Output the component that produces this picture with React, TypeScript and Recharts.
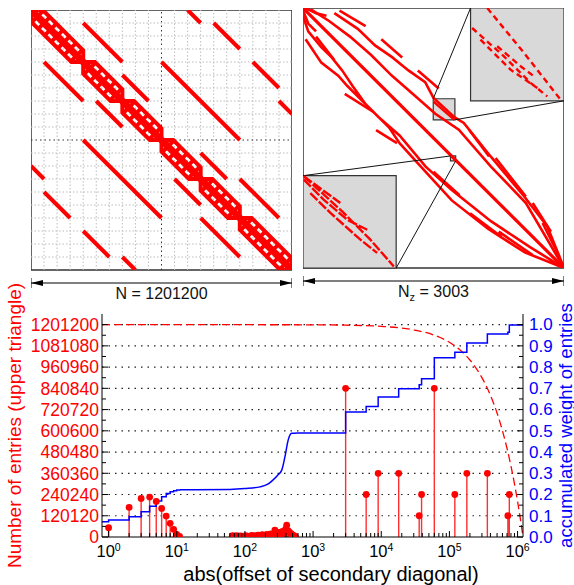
import React from "react";
import {
  ComposedChart,
  LineChart,
  Line,
  Scatter,
  XAxis,
  YAxis,
  ReferenceLine,
  ReferenceArea,
} from "recharts";

const N = 1201200;
const RED = "#ff0000";
const BLUE = "#0000ff";

// ---- top left: sparsity pattern, in grid cells (20 x 20, row 0 at top) ----
const gridCells = [1, 2, 3, 4, 5, 6, 7, 8, 9, 10, 11, 12, 13, 14, 15, 16, 17, 18, 19];
const diagBlocks = [[0, 4], [4, 7], [7, 10], [10, 13], [13, 16], [16, 20]];
// [col1, row1, col2, row2]
const offDiagonals = [
  [4, 1, 7, 4], [7, 5, 9, 7], [12, 0, 13, 1], [14, 1, 16, 3], [17, 4, 19, 6],
  [19, 7, 20, 8], [10, 4, 16, 10], [13, 11, 15, 13], [16, 13, 19, 16],
  [1, 4, 4, 7], [5, 7, 7, 9], [0, 12, 1, 13], [1, 14, 3, 16], [4, 17, 6, 19],
  [7, 19, 8, 20], [4, 10, 10, 16], [11, 13, 13, 15], [13, 16, 16, 19],
];

// ---- top right: reordered pattern, in percent of Nz (row 0 at top) ----
const nzMain = [[0, 0], [100, 100]];
const nzStrands = [
  [[12, 2], [21, 8], [27.6, 14.4], [34, 18.8], [40.4, 24], [46.8, 28.5], [50, 34.6], [58, 42], [61.6, 44.2], [71.9, 57.1], [84.7, 72.4], [93.6, 84], [100, 100]],
  [[3, 0.5], [10, 5], [18, 11], [26, 18], [34, 26], [42, 33], [50.7, 40.7], [59.7, 46.8], [72, 61], [85.4, 75], [100, 100]],
  [[0, 3], [2, 9], [7, 15], [11, 19], [15, 24], [19, 30], [24, 37], [29, 42], [37, 49], [47, 61], [57, 70], [72, 82], [87, 92], [100, 100]],
  [[1, 12], [7, 21], [13.5, 26], [17, 30], [23, 36], [28, 41], [33, 46], [37, 52], [47, 63], [57, 74], [71, 85], [85, 94], [100, 100]],
];
const nzBits = [
  [[1, 0], [5, 2], [9, 3]], [[0, 1], [2, 6], [5, 9]], [[14, 1], [24, 7]], [[30, 12], [38, 19]],
  [[44, 24], [52, 31]], [[63.6, 46.8], [71.3, 57.1]], [[73.8, 57.7], [85.4, 72.5]], [[88, 75], [95, 86]],
  [[91.8, 82.7], [98.2, 95.5]], [[5, 11], [12, 20]], [[16, 33], [27, 40]], [[28, 47], [36, 52]],
  [[50, 63], [60, 72]], [[64, 79], [76, 88]], [[75, 86], [88, 95]],
];
const insetUp = { u: [64.2, 100], v: [0, 35.7] };
const boxUp = { u: [49.9, 58.2], v: [34.9, 43] };
const insetLow = { u: [0, 35.7], v: [64.5, 100] };
const boxLow = { u: [56.5, 58.5], v: [56.9, 58.8] };
const connectors = [
  [[49.9, 34.9], [64.2, 0]], [[58.2, 43], [100, 35.7]],
  [[56.5, 56.9], [0, 64.5]], [[58.5, 58.8], [35.7, 100]],
];
const insetUpDashes = [
  [[70.6, 0], [84.7, 17.3], [98.7, 35.3]],
  [[64.8, 7.7], [77, 18.6], [87.2, 28.8], [93.6, 34]],
  [[68, 12.2], [79.5, 23.7], [89.8, 30.8]],
  [[74.4, 14.7], [83.4, 22.4], [88.5, 26.3]],
];
const insetLowDashes = [
  [[0.3, 64.7], [14.3, 75]],
  [[0.3, 66], [7.9, 73.7], [16.9, 81.4], [24.6, 85.3]],
  [[0.3, 64.7], [15.6, 78.8], [25.8, 89.1], [34.8, 99.4]],
  [[2.8, 71.2], [10.5, 78.8], [22, 89.1], [28.4, 94.2]],
];
const boxThrough = [[[57.5, 57.5], [58.5, 58.5]], [[50, 36], [58, 43]]];

// ---- bottom: entries per secondary diagonal ----
const stemOffsets = [
  1, 2, 3, 4, 5, 6, 7, 8, 9, 10, 11,
  66, 70, 75, 80, 85, 90, 96, 102, 110, 118, 126, 135, 145, 156, 168, 180, 195, 210, 225,
  240, 258, 275, 295, 315, 335, 355, 375, 395, 410, 430, 450, 475, 500, 525, 550,
  3003, 6006, 9009, 18018, 36036, 39039, 60060, 120120, 180180, 360360, 720720, 756756,
];
const stemCounts = [
  52400, 167500, 218000, 225600, 201300, 161800, 118400, 77300, 43400, 15000, 3000,
  8000, 4000, 7000, 3000, 6000, 5000, 3000, 8000, 5000, 4000, 9000, 6000, 8000, 11000, 7000, 13000, 9000, 15000, 11000,
  18000, 14000, 39000, 20000, 26000, 17000, 31000, 24000, 45000, 67000, 36000, 28000, 19000, 12000, 8000, 4000,
  840840, 240240, 360360, 360360, 120120, 240240, 840840, 240240, 360360, 360360, 120120, 240240,
];
// accumulated weight: steps up to offset 11, smooth rise to 600, steps again
const weightOffsets = [
  0.8, 1, 2, 3, 4, 5, 6, 7, 8, 9, 10, 11, 60, 100, 166, 220, 257, 300, 347, 386, 430, 484, 600,
  3003, 6006, 9009, 18018, 36036, 39039, 60060, 120120, 180180, 360360, 720720, 756756, 1201200,
];
const weights = [
  0.072, 0.08, 0.095, 0.119, 0.145, 0.169, 0.189, 0.205, 0.213, 0.218, 0.221, 0.222, 0.224, 0.228, 0.236, 0.25, 0.268, 0.29, 0.315, 0.377, 0.455, 0.488, 0.49,
  0.588, 0.615, 0.659, 0.698, 0.717, 0.745, 0.844, 0.87, 0.914, 0.956, 0.964, 0.998, 1.0,
];
const smoothFrom = 11;
const smoothTo = 600;
const lengthOffsets = [0.8, 1000, 3000, 10000, 30000, 60000, 100000, 150000, 200000, 300000, 400000, 500000, 600000, 700000, 800000, 900000, 1000000, 1100000, 1150000, 1201200];
const diagLengths = [1201200, 1200200, 1198200, 1191200, 1171200, 1141200, 1101200, 1051200, 1001200, 901200, 801200, 701200, 601200, 501200, 401200, 301200, 201200, 101200, 51200, 0];

const xMajor = [1, 10, 100, 1000, 10000, 100000, 1000000];
const xMinor = xMajor.slice(0, 6).flatMap((d) => [2, 3, 4, 5, 6, 7, 8, 9].map((m) => m * d));
const leftTicks = [0, 120120, 240240, 360360, 480480, 600600, 720720, 840840, 960960, 1081080, 1201200];
const leftMinor = leftTicks.slice(0, 10).map((v) => v + 60060);
const rightTicks = [0, 0.1, 0.2, 0.3, 0.4, 0.5, 0.6, 0.7, 0.8, 0.9, 1.0];
const rightMinor = [0.05, 0.15, 0.25, 0.35, 0.45, 0.55, 0.65, 0.75, 0.85, 0.95];

type Pt = { x: number; y: number | null };
function polyData(polys: number[][][]): Pt[] {
  const out: Pt[] = [];
  polys.forEach((p) => {
    p.forEach(([x, y]) => out.push({ x, y }));
    out.push({ x: p[p.length - 1][0], y: null });
  });
  return out;
}

const bandEdges = diagBlocks.flatMap(([a, b]) => [
  [[a, a], [a + 0.9, a], [b, b - 0.9], [b, b]],
  [[a, a], [a, a + 0.9], [b - 0.9, b], [b, b]],
]);
const bandRungs = diagBlocks.flatMap(([a, b]) => {
  const r: number[][][] = [];
  for (let t = a + 0.5; t < b; t += 0.5) r.push([[t + 0.45, t - 0.45], [t - 0.45, t + 0.45]]);
  return r;
});

const stemData = polyData(stemOffsets.map((x, i) => [[x, 0], [x, stemCounts[i]]]));
const stemTops = stemOffsets.map((x, i) => ({ x, y: stemCounts[i] }));
const weightData = weightOffsets.map((x, i) => ({ x, y: weights[i] }));
const weightStepsLow = weightData.filter((d) => d.x <= smoothFrom);
const weightSmooth = weightData.filter((d) => d.x >= smoothFrom && d.x <= smoothTo);
const weightStepsHigh = weightData.filter((d) => d.x >= smoothTo);
const lengthData = lengthOffsets.map((x, i) => ({ x, y: diagLengths[i] }));

const dimLabel = (content: React.ReactNode) => (props: any) => {
  const { x, y, width } = props.viewBox;
  const ay = y + 13;
  const x1 = x + width;
  return (
    <g>
      <line x1={x} x2={x1} y1={ay} y2={ay} stroke="#000" strokeWidth={1} />
      <line x1={x} x2={x} y1={ay - 5} y2={ay + 5} stroke="#000" />
      <line x1={x1} x2={x1} y1={ay - 5} y2={ay + 5} stroke="#000" />
      <polygon points={`${x},${ay} ${x + 12},${ay - 3} ${x + 12},${ay + 3}`} fill="#000" />
      <polygon points={`${x1},${ay} ${x1 - 12},${ay - 3} ${x1 - 12},${ay + 3}`} fill="#000" />
      <text x={x + width / 2} y={y + 29} textAnchor="middle" fontSize={16} fill="#111">
        {content}
      </text>
    </g>
  );
};

const BottomTick = (p: any) => {
  const v = p.payload.value;
  const major = xMajor.includes(v);
  return (
    <g>
      <line x1={p.x} x2={p.x} y1={p.y} y2={p.y - (major ? 6 : 4)} stroke="#000" />
      {major && (
        <text x={p.x} y={p.y + 20} textAnchor="middle" fontSize={16.5} fill="#000">
          10
          <tspan dy={-6} fontSize={10.5}>{String(Math.round(Math.log10(v)))}</tspan>
        </text>
      )}
    </g>
  );
};
const TopTick = (p: any) => {
  const major = xMajor.includes(p.payload.value);
  return <line x1={p.x} x2={p.x} y1={p.y} y2={p.y + (major ? 6 : 4)} stroke="#000" />;
};
const LeftTick = (p: any) => {
  const v = p.payload.value;
  const major = leftTicks.includes(v);
  return (
    <g>
      <line x1={p.x} x2={p.x + (major ? 6 : 4)} y1={p.y} y2={p.y} stroke="#000" />
      {major && (
        <text x={p.x - 3} y={p.y} dy="0.36em" textAnchor="end" fontSize={17.5} fill={RED}>
          {v}
        </text>
      )}
    </g>
  );
};
const RightTick = (p: any) => {
  const v = p.payload.value;
  const major = rightTicks.includes(v);
  return (
    <g>
      <line x1={p.x} x2={p.x - (major ? 6 : 4)} y1={p.y} y2={p.y} stroke="#000" />
      {major && (
        <text x={p.x + 6} y={p.y} dy="0.34em" textAnchor="start" fontSize={17} fill={BLUE}>
          {v.toFixed(1)}
        </text>
      )}
    </g>
  );
};

const leftTitle = (props: any) => {
  const { y, height } = props.viewBox;
  const cy = y + height / 2;
  return (
    <text x={14} y={cy} transform={`rotate(-90, 14, ${cy})`} textAnchor="middle" dominantBaseline="central" fontSize={19} fill={RED}>
      Number of entries (upper triangle)
    </text>
  );
};
const rightTitle = (props: any) => {
  const { x, y, height } = props.viewBox;
  const cy = y + height / 2;
  const cx = x + 42;
  return (
    <text x={cx} y={cy} transform={`rotate(-90, ${cx}, ${cy})`} textAnchor="middle" dominantBaseline="central" fontSize={18.5} fill={BLUE}>
      accumulated weight of entries
    </text>
  );
};
const xTitle = (props: any) => {
  const { y } = props.viewBox;
  return (
    <text x={331} y={y + 44} textAnchor="middle" fontSize={20} fill="#000">
      abs(offset of secondary diagonal)
    </text>
  );
};

export default function App() {
  return (
    <div
      style={{
        position: "absolute",
        left: 0,
        top: 0,
        width: 574,
        height: 585,
        background: "#fff",
        fontFamily: "'Liberation Sans', Arial, Helvetica, sans-serif",
      }}
    >
      {/* top left */}
      <div style={{ position: "absolute", left: 31, top: 10 }}>
        <LineChart width={261} height={300} margin={{ top: 0, right: 0, bottom: 0, left: 0 }}>
          <XAxis type="number" dataKey="x" domain={[0, 20]} allowDataOverflow axisLine={false} tickLine={false} tick={false} height={40} label={dimLabel("N = 1201200")} />
          <YAxis type="number" dataKey="y" domain={[0, 20]} reversed allowDataOverflow hide />
          {gridCells.map((i) => (
            <ReferenceLine key={"gx" + i} x={i} stroke={i === 10 ? "#333" : "#bdbdbd"} strokeDasharray={i === 10 ? "1.5 3" : "1.5 2"} />
          ))}
          {gridCells.map((i) => (
            <ReferenceLine key={"gy" + i} y={i} stroke={i === 10 ? "#333" : "#bdbdbd"} strokeDasharray={i === 10 ? "1.5 3" : "1.5 2"} />
          ))}
          <ReferenceArea x1={0} x2={20} y1={0} y2={20} fill="none" stroke="#333" strokeWidth={1.5} />
          <Line data={polyData(offDiagonals.map(([a, b, c, d]) => [[a, b], [c, d]]))} dataKey="y" stroke={RED} strokeWidth={4} dot={false} isAnimationActive={false} />
          <Line data={polyData([[[0, 0], [20, 20]]])} dataKey="y" stroke={RED} strokeWidth={7} dot={false} isAnimationActive={false} />
          <Line data={polyData(bandEdges)} dataKey="y" stroke={RED} strokeWidth={4} dot={false} isAnimationActive={false} />
          <Line data={polyData(bandRungs)} dataKey="y" stroke={RED} strokeWidth={4} dot={false} isAnimationActive={false} />
        </LineChart>
      </div>

      {/* top right */}
      <div style={{ position: "absolute", left: 303, top: 8 }}>
        <LineChart width={261} height={300} margin={{ top: 0, right: 0, bottom: 0, left: 0 }}>
          <XAxis type="number" dataKey="x" domain={[0, 100]} allowDataOverflow axisLine={false} tickLine={false} tick={false} height={40}
            label={dimLabel([
              <tspan key="n">N</tspan>,
              <tspan key="z" dy={4} fontSize={11}>z</tspan>,
              <tspan key="r" dy={-4}> = 3003</tspan>,
            ])}
          />
          <YAxis type="number" dataKey="y" domain={[0, 100]} reversed allowDataOverflow hide />
          <ReferenceArea x1={0} x2={100} y1={0} y2={100} fill="none" stroke="#333" strokeWidth={1.5} />
          <Line data={polyData([nzMain])} dataKey="y" stroke={RED} strokeWidth={3.2} dot={false} isAnimationActive={false} />
          <Line data={polyData(nzStrands)} dataKey="y" stroke={RED} strokeWidth={2.6} dot={false} isAnimationActive={false} />
          <Line data={polyData(nzBits)} dataKey="y" stroke={RED} strokeWidth={2.6} dot={false} isAnimationActive={false} />
          {[insetUp, boxUp, insetLow, boxLow].map((r, i) => (
            <ReferenceArea key={"ins" + i} x1={r.u[0]} x2={r.u[1]} y1={r.v[0]} y2={r.v[1]} fill="#d9d9d9" fillOpacity={1} stroke="#333" strokeWidth={1.2} />
          ))}
          <Line data={polyData(connectors)} dataKey="y" stroke="#111" strokeWidth={1} dot={false} isAnimationActive={false} />
          <Line data={polyData(insetUpDashes)} dataKey="y" stroke={RED} strokeWidth={2.4} strokeDasharray="6 4" dot={false} isAnimationActive={false} />
          <Line data={polyData(insetLowDashes)} dataKey="y" stroke={RED} strokeWidth={2.4} strokeDasharray="10 2" dot={false} isAnimationActive={false} />
          <Line data={polyData(boxThrough)} dataKey="y" stroke={RED} strokeWidth={2.4} dot={false} isAnimationActive={false} />
        </LineChart>
      </div>

      {/* bottom */}
      <div style={{ position: "absolute", left: 0, top: 278 }}>
        <ComposedChart width={574} height={307} margin={{ top: 36, right: 0, bottom: 0, left: 0 }}>
          <XAxis xAxisId="bottom" type="number" dataKey="x" scale="log" domain={[0.8, N]} allowDataOverflow ticks={[...xMajor, ...xMinor]} interval={0}
            tick={(p: any) => <BottomTick {...p} />} tickLine={false} tickSize={0} tickMargin={0} axisLine={{ stroke: "#000" }} height={48} label={xTitle} />
          <XAxis xAxisId="top" orientation="top" type="number" dataKey="x" scale="log" domain={[0.8, N]} allowDataOverflow ticks={[...xMajor, ...xMinor]} interval={0}
            tick={(p: any) => <TopTick {...p} />} tickLine={false} tickSize={0} tickMargin={0} axisLine={{ stroke: "#000" }} height={0} />
          <YAxis yAxisId="left" type="number" dataKey="y" domain={[0, 1261260]} allowDataOverflow ticks={[...leftTicks, ...leftMinor]} interval={0}
            tick={(p: any) => <LeftTick {...p} />} tickLine={false} tickSize={0} tickMargin={0} axisLine={{ stroke: "#000" }} width={102} label={leftTitle} />
          <YAxis yAxisId="right" orientation="right" type="number" dataKey="y" domain={[0, 1.05]} allowDataOverflow ticks={[...rightTicks, ...rightMinor]} interval={0}
            tick={(p: any) => <RightTick {...p} />} tickLine={false} tickSize={0} tickMargin={0} axisLine={{ stroke: "#000" }} width={51} label={rightTitle} />
          {leftTicks.slice(1).map((v) => (
            <ReferenceLine key={"h" + v} xAxisId="bottom" yAxisId="left" y={v} stroke="#222" strokeWidth={1.2} strokeDasharray="1.5 5" />
          ))}
          <Line xAxisId="bottom" yAxisId="left" data={lengthData} dataKey="y" type="monotone" stroke={RED} strokeWidth={1.3} strokeDasharray="8 4" dot={false} isAnimationActive={false} />
          <Line xAxisId="bottom" yAxisId="left" data={stemData} dataKey="y" stroke="#ff3030" strokeWidth={1.4} dot={false} isAnimationActive={false} />
          <Scatter xAxisId="bottom" yAxisId="left" data={stemTops} dataKey="y" fill={RED} isAnimationActive={false}
            shape={(p: any) => <circle cx={p.cx} cy={p.cy} r={3.4} fill={RED} />} />
          <Line xAxisId="bottom" yAxisId="right" data={weightStepsLow} dataKey="y" type="stepAfter" stroke={BLUE} strokeWidth={1.5} dot={false} isAnimationActive={false} />
          <Line xAxisId="bottom" yAxisId="right" data={weightSmooth} dataKey="y" type="monotone" stroke={BLUE} strokeWidth={1.5} dot={false} isAnimationActive={false} />
          <Line xAxisId="bottom" yAxisId="right" data={weightStepsHigh} dataKey="y" type="stepAfter" stroke={BLUE} strokeWidth={1.5} dot={false} isAnimationActive={false} />
        </ComposedChart>
      </div>
    </div>
  );
}
